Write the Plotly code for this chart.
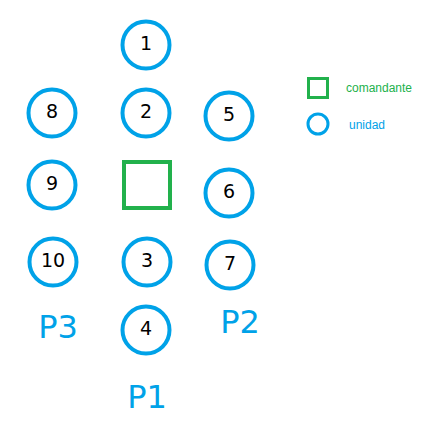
import plotly.graph_objects as go

# unidades (posicion en el dibujo)
unidades = ["1", "2", "8", "5", "9", "6", "10", "3", "7", "4"]
ux = [146, 146, 52, 229, 52, 229, 53, 147, 230, 146]
uy = [45, 113, 113, 116, 185, 193, 262, 262, 265, 330]

# comandante
cx = [147]
cy = [185]

# grupos
grupos = ["P3", "P2", "P1"]
gx = [58, 240, 147]
gy = [330, 325, 400]

azul = "#00a2e8"
verde = "#22b14c"

fig = go.Figure()

fig.add_trace(go.Scatter(
    x=ux, y=uy, mode="markers+text", text=unidades,
    marker=dict(size=47, color="white", line=dict(color=azul, width=4)),
    textfont=dict(size=19, color="black", family="DejaVu Sans"),
    textposition="middle center", showlegend=False))

fig.add_trace(go.Scatter(
    x=cx, y=cy, mode="markers",
    marker=dict(symbol="square", size=46, color="white", line=dict(color=verde, width=4)),
    showlegend=False))

fig.add_trace(go.Scatter(
    x=gx, y=gy, mode="text", text=grupos,
    textfont=dict(size=32, color=azul, family="DejaVu Sans"),
    showlegend=False))

# leyenda dibujada
fig.add_trace(go.Scatter(
    x=[318], y=[88], mode="markers",
    marker=dict(symbol="square", size=19, color="white", line=dict(color=verde, width=3)),
    showlegend=False))
fig.add_trace(go.Scatter(
    x=[318], y=[124], mode="markers",
    marker=dict(size=20, color="white", line=dict(color=azul, width=3)),
    showlegend=False))
fig.add_annotation(x=344, y=88, text="comandante", showarrow=False, xanchor="left",
                   font=dict(size=12, color=verde, family="Liberation Sans"))
fig.add_annotation(x=347, y=125, text="unidad", showarrow=False, xanchor="left",
                   font=dict(size=12, color=azul, family="Liberation Sans"))

# el body del html tiene margen de 8px, se compensa en los rangos
fig.update_layout(
    width=447, height=445, margin=dict(l=0, r=0, t=0, b=0),
    plot_bgcolor="white", paper_bgcolor="white",
    xaxis=dict(range=[8, 455], visible=False, fixedrange=True),
    yaxis=dict(range=[453, 8], visible=False, fixedrange=True),
)

fig.write_html("out.html")
